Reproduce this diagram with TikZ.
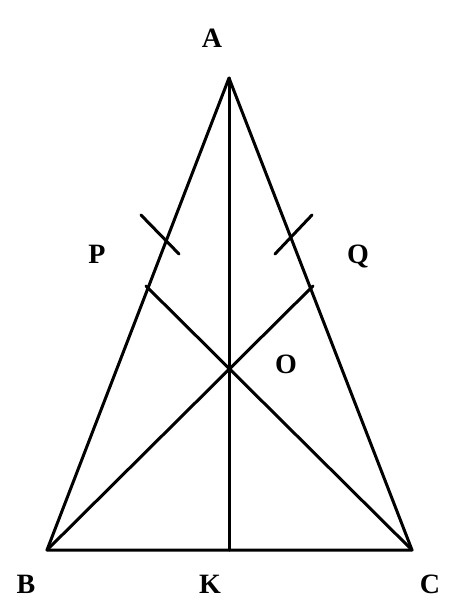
\documentclass[tikz,border=0pt]{standalone}
\usepackage{fontspec}
\setmainfont{Liberation Serif}
\begin{document}
\begin{tikzpicture}[x=1pt,y=-1pt,
  seg/.style={line width=3pt, line cap=round, line join=round},
  lbl/.style={font=\fontsize{28}{30}\selectfont\bfseries}]
\useasboundingbox (0,0) rectangle (448,606);
\coordinate (A) at (229,78);
\coordinate (B) at (47,550);
\coordinate (C) at (412,550);
\coordinate (K) at (229,550);
\coordinate (P) at (146,286);
\coordinate (Q) at (313,286);
\coordinate (O) at (229,370);
\coordinate (t1a) at (141,215);
\coordinate (t1b) at (179,254);
\coordinate (t2a) at (312,215);
\coordinate (t2b) at (275,254);
\draw[seg] (A) -- (B) -- (C) -- cycle;
\draw[seg] (A) -- (K);
\draw[seg] (B) -- (Q);
\draw[seg] (C) -- (P);
\draw[seg] (t1a) -- (t1b);
\draw[seg] (t2a) -- (t2b);
\node[lbl] (lA) at (212,38) {A};
\node[lbl] (lP) at (97,254) {P};
\node[lbl] (lQ) at (358,256) {Q};
\node[lbl] (lO) at (286,364) {O};
\node[lbl] (lB) at (26,584) {B};
\node[lbl] (lK) at (210,584) {K};
\node[lbl] (lC) at (430,584) {C};
\end{tikzpicture}
\end{document}
